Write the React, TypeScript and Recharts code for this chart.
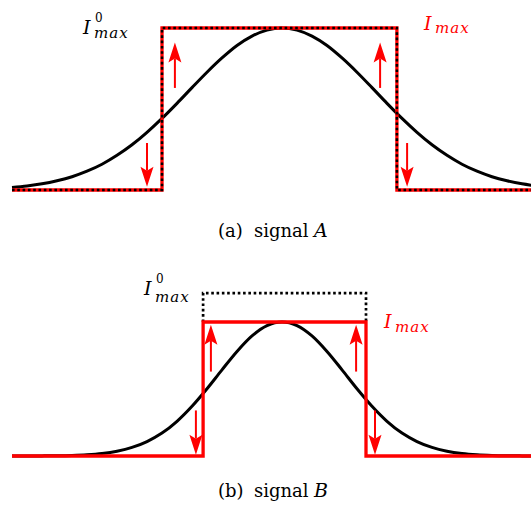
import { ComposedChart, Line, XAxis, YAxis, ReferenceLine } from "recharts";

const RED = "#ff0000";
const INK = "#000000";
const SERIF = "'DejaVu Serif', serif";

// sample positions shared by both bell curves
const curveX = [
  -9, -8.5, -8, -7.5, -7, -6.5, -6, -5.5, -5, -4.5, -4, -3.5, -3, -2.5, -2, -1.5, -1, -0.5,
  0, 0.5, 1, 1.5, 2, 2.5, 3, 3.5, 4, 4.5, 5, 5.5, 6, 6.5, 7, 7.5, 8, 8.5,
];
const signalA = [
  0.016, 0.025, 0.038, 0.057, 0.082, 0.116, 0.159, 0.214, 0.279, 0.356, 0.442, 0.535, 0.632, 0.727, 0.815, 0.892, 0.95, 0.987,
  1, 0.987, 0.95, 0.892, 0.815, 0.727, 0.632, 0.535, 0.442, 0.356, 0.279, 0.214, 0.159, 0.116, 0.082, 0.057, 0.038, 0.025,
];
const signalB = [
  0.0001, 0.0003, 0.0009, 0.002, 0.0045, 0.0095, 0.019, 0.036, 0.064, 0.108, 0.171, 0.259, 0.371, 0.502, 0.643, 0.78, 0.896, 0.973,
  1, 0.973, 0.896, 0.78, 0.643, 0.502, 0.371, 0.259, 0.171, 0.108, 0.064, 0.036, 0.019, 0.0095, 0.0045, 0.002, 0.0009, 0.0003,
];

// thresholded pulse (I_max) outlines
const pulseAX = [-9, -4, -4, 3.83, 3.83, 8.5];
const pulseAY = [0, 0, 1, 1, 0, 0];
const pulseBX = [-9, -2.63, -2.63, 2.8, 2.8, 8.5];
const pulseBY = [0, 0, 1, 1, 0, 0];

// original level I^0_max in signal B
const origBX = [-2.63, -2.63, 2.8, 2.8];
const origBY = [1, 1.216, 1.216, 1];

// arrows: x position, start level, end level
const arrowAX = [-3.57, -4.5, 3.27, 4.17];
const arrowAFrom = [0.63, 0.29, 0.63, 0.29];
const arrowATo = [0.91, 0.02, 0.91, 0.02];
const arrowBX = [-2.37, -2.87, 2.47, 3.1];
const arrowBFrom = [0.63, 0.34, 0.63, 0.34];
const arrowBTo = [0.98, 0.01, 0.98, 0.01];

const toPoints = (xs: number[], ys: number[]) => xs.map((x, i) => ({ x, y: ys[i] }));

function Arrow(props: any) {
  const { x1, y1, x2, y2 } = props;
  const dir = Math.sign(y2 - y1);
  const head = 20;
  const notch = 16;
  const half = 6.5;
  const baseY = y2 - dir * head;
  return (
    <g>
      <line x1={x1} y1={y1} x2={x2} y2={y2 - dir * notch} stroke={RED} strokeWidth={2} />
      <path
        d={`M${x2},${y2} L${x2 - half},${baseY} L${x2},${y2 - dir * notch} L${x2 + half},${baseY} Z`}
        fill={RED}
      />
    </g>
  );
}

function arrows(xs: number[], from: number[], to: number[]) {
  return xs.map((x, i) => (
    <ReferenceLine
      key={i}
      segment={[
        { x, y: from[i] },
        { x, y: to[i] },
      ]}
      shape={Arrow}
    />
  ));
}

// text span positioned by its left edge and baseline
function Txt(props: { x: number; base: number; size: number; italic?: boolean; spacing?: number; color?: string; children: string }) {
  const { x, base, size, italic, spacing, color, children } = props;
  return (
    <span
      style={{
        position: "absolute",
        left: x,
        top: base - 0.846 * size,
        fontFamily: SERIF,
        fontSize: size,
        lineHeight: 1,
        fontStyle: italic ? "italic" : "normal",
        letterSpacing: spacing ?? 0,
        whiteSpace: "nowrap",
        color: color ?? INK,
      }}
    >
      {children}
    </span>
  );
}

function Imax(props: { x: number; base: number; color: string; zero?: boolean; subBase: number }) {
  const { x, base, color, zero, subBase } = props;
  const subX = x + 11;
  return (
    <>
      <Txt x={x} base={base} size={19} italic color={color}>I</Txt>
      {zero && <Txt x={subX + 1} base={base - 12} size={12} color={color}>0</Txt>}
      <Txt x={subX} base={subBase} size={15} italic spacing={1} color={color}>max</Txt>
    </>
  );
}

function Caption(props: { base: number; tag: string; name: string }) {
  const { base, tag, name } = props;
  return (
    <>
      <Txt x={218} base={base} size={18}>{tag}</Txt>
      <Txt x={254} base={base} size={18}>signal</Txt>
      <Txt x={314} base={base} size={19} italic>{name}</Txt>
    </>
  );
}

export default function App() {
  return (
    <div style={{ position: "absolute", left: 0, top: 0, width: 531, height: 507, overflow: "hidden", background: "#fff" }}>
      <div style={{ position: "absolute", left: 0, top: 0 }}>
        <ComposedChart width={537} height={200} margin={{ top: 28, right: 0, bottom: 10, left: 12 }}>
          <XAxis type="number" dataKey="x" domain={[-9, 8.5]} hide />
          <YAxis type="number" domain={[0, 1]} hide />
          <Line data={toPoints(curveX, signalA)} dataKey="y" type="monotone" stroke={INK} strokeWidth={3} dot={false} activeDot={false} isAnimationActive={false} />
          <Line data={toPoints(pulseAX, pulseAY)} dataKey="y" type="linear" stroke={RED} strokeWidth={3.3} dot={false} activeDot={false} isAnimationActive={false} />
          <Line data={toPoints(pulseAX, pulseAY)} dataKey="y" type="linear" stroke={INK} strokeWidth={2.5} strokeDasharray="2.6 2.7" dot={false} activeDot={false} isAnimationActive={false} />
          {arrows(arrowAX, arrowAFrom, arrowATo)}
        </ComposedChart>
      </div>
      <div style={{ position: "absolute", left: 0, top: 260 }}>
        <ComposedChart width={537} height={210} margin={{ top: 21.8, right: 0, bottom: 14, left: 12 }}>
          <XAxis type="number" dataKey="x" domain={[-9, 8.5]} hide />
          <YAxis type="number" domain={[0, 1.3]} hide />
          <Line data={toPoints(curveX, signalB)} dataKey="y" type="monotone" stroke={INK} strokeWidth={3} dot={false} activeDot={false} isAnimationActive={false} />
          <Line data={toPoints(origBX, origBY)} dataKey="y" type="linear" stroke={INK} strokeWidth={2.7} strokeDasharray="2.6 2.7" dot={false} activeDot={false} isAnimationActive={false} />
          <Line data={toPoints(pulseBX, pulseBY)} dataKey="y" type="linear" stroke={RED} strokeWidth={3.3} dot={false} activeDot={false} isAnimationActive={false} />
          {arrows(arrowBX, arrowBFrom, arrowBTo)}
        </ComposedChart>
      </div>
      <Imax x={83} base={34} color={INK} zero subBase={39} />
      <Imax x={424} base={30} color={RED} subBase={34} />
      <Imax x={144} base={295} color={INK} zero subBase={303} />
      <Imax x={384} base={328} color={RED} subBase={333} />
      <Caption base={237} tag="(a)" name="A" />
      <Caption base={497} tag="(b)" name="B" />
    </div>
  );
}
